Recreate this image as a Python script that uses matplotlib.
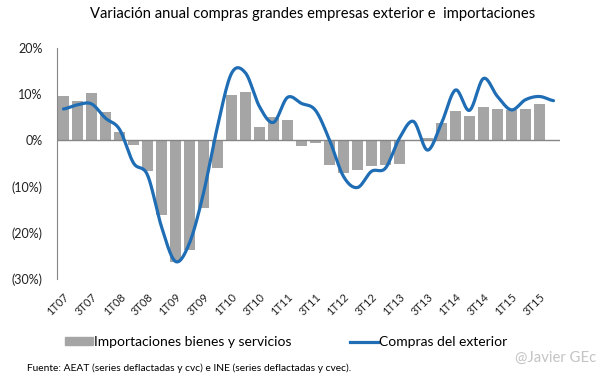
import numpy as np
import matplotlib
matplotlib.use("Agg")
import matplotlib.pyplot as plt
from matplotlib.lines import Line2D
from matplotlib.patches import Patch

plt.rcParams['font.family'] = ['Lato', 'DejaVu Sans']

# trimestres 1T07 .. 4T15
trimestres = [f"{q}T{a:02d}" for a in range(7, 16) for q in range(1, 5)]

# importaciones bienes y servicios (%), sin dato 4T15
importaciones = [9.5, 8.6, 10.2, 6.1, 1.9, -1.1, -6.6, -16.1, -26.4, -23.7, -14.7, -6.0,
                 9.9, 10.4, 2.8, 5.0, 4.5, -1.2, -0.6, -5.3, -7.0, -6.5, -5.5, -5.4,
                 -5.1, 0.0, 0.6, 3.7, 6.3, 5.2, 7.3, 6.7, 6.5, 6.9, 7.8]

# compras del exterior (%)
compras = [6.8, 7.7, 7.9, 4.8, 2.4, -4.9, -7.5, -18.7, -26.2, -22.2, -11.4, 3.0,
           14.5, 14.6, 7.3, 3.9, 9.3, 8.0, 6.5, 0.1, -7.8, -10.2, -6.7, -6.0,
           0.5, 4.1, -2.1, 3.7, 10.9, 6.5, 13.4, 9.5, 6.6, 8.8, 9.5, 8.6]

etiquetas_y = ["(30%)", "(20%)", "(10%)", "0%", "10%", "20%"]
valores_y = [-30, -20, -10, 0, 10, 20]


def suavizar(y, pasos=20):
    # linea suavizada tipo Excel (Catmull-Rom)
    y = np.asarray(y, dtype=float)
    p = np.concatenate([[y[0]], y, [y[-1]]])
    xs, ys = [], []
    for i in range(len(y) - 1):
        p0, p1, p2, p3 = p[i], p[i + 1], p[i + 2], p[i + 3]
        t = np.linspace(0, 1, pasos, endpoint=False)
        yy = 0.5 * ((2 * p1) + (-p0 + p2) * t + (2 * p0 - 5 * p1 + 4 * p2 - p3) * t ** 2
                    + (-p0 + 3 * p1 - 3 * p2 + p3) * t ** 3)
        xs.extend(i + t)
        ys.extend(yy)
    xs.append(len(y) - 1)
    ys.append(y[-1])
    return np.array(xs), np.array(ys)


fig = plt.figure(figsize=(6.05, 3.79), dpi=100)
ax = fig.add_axes([0.0934, 0.2639, 0.833, 0.6095])

x = np.arange(len(trimestres))
ax.bar(x[:len(importaciones)], importaciones, width=0.79, color='#a5a5a5', zorder=2)
xs, ys = suavizar(compras)
ax.plot(xs, ys, color='#1f6db4', lw=2.3, zorder=3, solid_capstyle='round')

ax.axhline(0, color='#868686', lw=1, zorder=2.5)
ax.set_xlim(-0.5, len(trimestres) - 0.5)
ax.set_ylim(-30, 20)

ax.set_yticks(valores_y)
ax.set_yticklabels(etiquetas_y, fontsize=9)
ax.set_xticks(x[::2])
ax.set_xticklabels(trimestres[::2], rotation=45, ha='right', va='top',
                   rotation_mode='anchor', fontsize=8)
ax.tick_params(axis='both', length=0, colors='#222222')
ax.tick_params(axis='y', pad=10)
ax.tick_params(axis='x', pad=9)
for lado in ['top', 'right', 'bottom']:
    ax.spines[lado].set_visible(False)
ax.spines['left'].set_color('#868686')

fig.text(0.517, 0.963, "Variación anual compras grandes empresas exterior e  importaciones",
         ha='center', va='center', fontsize=10.6)

manejadores = [Patch(color='#a5a5a5'), Line2D([0], [0], color='#1f6db4', lw=2.3)]
fig.legend(manejadores, ["Importaciones bienes y servicios", "Compras del exterior"],
           loc='center left', bbox_to_anchor=(0.107, 0.097), ncol=2, frameon=False,
           fontsize=10, handlelength=2.0, handleheight=0.5, handletextpad=0.1,
           columnspacing=4.2, borderpad=0, borderaxespad=0)

fig.text(0.045, 0.029, "Fuente: AEAT (series deflactadas y cvc) e INE (series deflactadas y cvec).",
         fontsize=7.4, ha='left', va='center')
fig.text(0.985, 0.055, "@Javier GEc", fontsize=10.7, color='#c4c4c4', ha='right', va='center')

fig.savefig("out.png", dpi=100)
